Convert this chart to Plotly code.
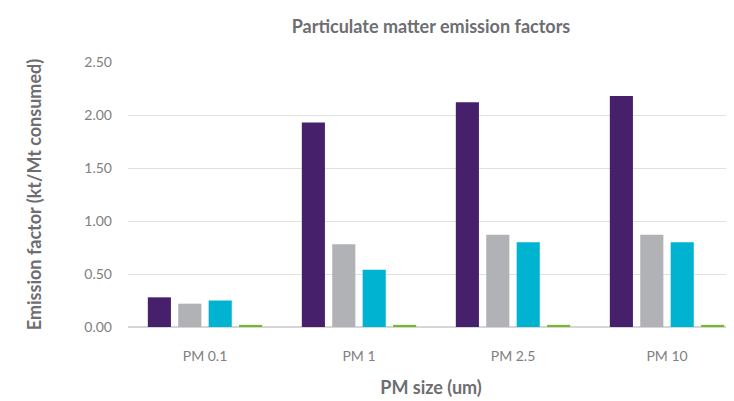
import plotly.graph_objects as go

categories = ["PM 0.1", "PM 1", "PM 2.5", "PM 10"]
series_a = [0.28, 1.93, 2.12, 2.18]
series_b = [0.22, 0.78, 0.87, 0.87]
series_c = [0.25, 0.54, 0.80, 0.80]
series_d = [0.02, 0.02, 0.02, 0.02]
series_names = ["Series 1", "Series 2", "Series 3", "Series 4"]
colors = ["#46206b", "#b1b2b6", "#00b3d1", "#76b82a"]
y_ticks = [0, 0.5, 1.0, 1.5, 2.0, 2.5]
y_tick_labels = ["0.00", "0.50", "1.00", "1.50", "2.00", "2.50"]

FONT = "Lato"
TXT = "#6d6e71"
TICK = "#808080"

fig = go.Figure()
for name, vals, col in zip(series_names, [series_a, series_b, series_c, series_d], colors):
    fig.add_trace(go.Bar(x=categories, y=vals, name=name, marker=dict(color=col, line=dict(width=0))))

fig.update_layout(
    width=734, height=401,
    margin=dict(l=120, r=8, t=54, b=82),
    paper_bgcolor="white", plot_bgcolor="white",
    barmode="group", bargap=0.21, bargroupgap=0.24,
    showlegend=False,
    font=dict(family=FONT, color=TICK, size=14),
    title=dict(text="Particulate matter emission factors", x=0.5, xref="paper",
               y=1 - 19 / 401, yref="container", yanchor="middle",
               font=dict(family=FONT, size=18, color=TXT, weight=700)),
    xaxis=dict(range=[-0.5, 3.435], showgrid=False, showline=False, zeroline=False,
               ticks="", ticklabelstandoff=19, tickfont=dict(size=14, color=TICK),
               title=dict(text="PM size (um)", standoff=18,
                          font=dict(family=FONT, size=18, color=TXT, weight=700))),
    yaxis=dict(range=[0, 2.5], tickvals=y_ticks, ticktext=y_tick_labels,
               showgrid=True, gridcolor="#e0e0e0", gridwidth=1,
               zeroline=True, zerolinecolor="#d6d6d6", zerolinewidth=1.5,
               showline=False, ticks="", ticklabelstandoff=15,
               tickfont=dict(size=14, color=TICK),
               title=dict(text="Emission factor (kt/Mt consumed)", standoff=38,
                          font=dict(family=FONT, size=18, color=TXT, weight=700))),
)

fig.write_html("out.html")
